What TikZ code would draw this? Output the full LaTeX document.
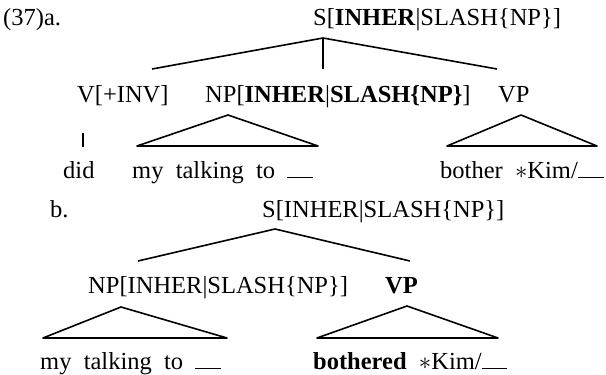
\documentclass[tikz,border=0pt]{standalone}
\usepackage{fontspec}
\setmainfont{Liberation Serif}[WordSpace=2]
\newcommand{\gap}{\rule{1.05em}{1.5pt}}
\begin{document}
\begin{tikzpicture}[x=1pt, y=-1pt, font=\fontsize{24.5}{28}\selectfont,
    lbl/.style={anchor=base west, inner sep=0pt},
    branch/.style={line width=1.6pt, line join=round}]
    \useasboundingbox (0,0) rectangle (606,375);

    % Labels of tree (a)
    \node[lbl] (exa) at (3,25) {(37)a.};
    \node[lbl] (sa) at (313,25) {S[\textbf{INHER}|SLASH\{NP\}]};
    \node[lbl] (va) at (77,102) {V[+INV]};
    \node[lbl] (npa) at (205,102) {NP[\textbf{INHER}|\textbf{SLASH\{NP\}}]};
    \node[lbl] (vpa) at (498,102) {VP};
    \node[lbl] (did) at (63,178) {did};
    \node[lbl] (wnpa) at (132,178) {my talking to \gap};
    \node[lbl] (wvpa) at (440,178) {bother $\ast$Kim/\gap};

    % Branch points of tree (a)
    \coordinate (ta) at (323,38);
    \coordinate (fva) at (152,69);
    \coordinate (fnpa) at (323,69);
    \coordinate (fvpa) at (497,69);
    \coordinate (dtop) at (83,133);
    \coordinate (dbot) at (83,147);
    \coordinate (npa1) at (228,115);
    \coordinate (npa2) at (137,146);
    \coordinate (npa3) at (318,146);
    \coordinate (vpa1) at (521,115);
    \coordinate (vpa2) at (447,146);
    \coordinate (vpa3) at (597,146);

    \foreach \f in {fva, fnpa, fvpa}
        \draw[branch] (ta) -- (\f);
    \draw[branch] (dtop) -- (dbot);
    \draw[branch] (npa1) -- (npa2) -- (npa3) -- cycle;
    \draw[branch] (vpa1) -- (vpa2) -- (vpa3) -- cycle;

    % Labels of tree (b)
    \node[lbl] (exb) at (50,217) {b.};
    \node[lbl] (sb) at (262,217) {S[INHER|SLASH\{NP\}]};
    \node[lbl] (npb) at (88,293) {NP[INHER|SLASH\{NP\}]};
    \node[lbl] (vpb) at (385,293) {\textbf{VP}};
    \node[lbl] (wnpb) at (40,369) {my talking to \gap};
    \node[lbl] (wvpb) at (313,369) {\textbf{bothered} $\ast$Kim/\gap};

    % Branch points of tree (b)
    \coordinate (tb) at (275,229);
    \coordinate (fnpb) at (138,261);
    \coordinate (fvpb) at (410,261);
    \coordinate (npb1) at (121,307);
    \coordinate (npb2) at (43,338);
    \coordinate (npb3) at (227,338);
    \coordinate (vpb1) at (407,306);
    \coordinate (vpb2) at (317,338);
    \coordinate (vpb3) at (498,338);

    \foreach \f in {fnpb, fvpb}
        \draw[branch] (tb) -- (\f);
    \draw[branch] (npb1) -- (npb2) -- (npb3) -- cycle;
    \draw[branch] (vpb1) -- (vpb2) -- (vpb3) -- cycle;
\end{tikzpicture}
\end{document}
